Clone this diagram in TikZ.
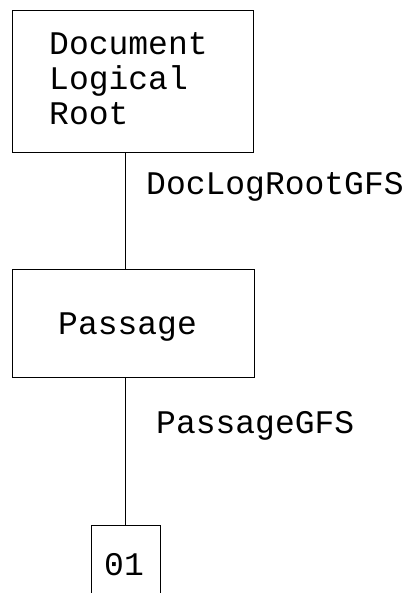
\documentclass[tikz,border=0pt]{standalone}
\usepackage{fontspec}
\newfontfamily\treefont{Liberation Mono}
\usetikzlibrary{positioning}
\tikzset{
box/.style={draw, rectangle, line width=0.8pt, inner sep=0pt},
boxtext/.style={font=\treefont\fontsize{33}{35}\selectfont, inner sep=0pt, anchor=base west, align=left},
edgelabel/.style={font=\treefont\fontsize{33}{35}\selectfont, inner sep=0pt, anchor=base west},
}

\begin{document}
\begin{tikzpicture}[x=1pt, y=-1pt]
    \useasboundingbox (0,0) rectangle (407,593);
    \begin{scope}
    \clip (0,0) rectangle (407,593);
    % boxes
    \node (root) [box, minimum width=241pt, minimum height=142pt] at (132.5,81) {};
    \node (passage) [box, minimum width=242pt, minimum height=108pt] at (133,323) {};
    \node (leaf) [box, minimum width=69pt, minimum height=100pt] at (125.5,575) {};
    \end{scope}
    % texts
    \node (roottext) [boxtext] at (49,125) {Document\\Logical\\Root};
    \node (passagetext) [boxtext] at (58,334) {Passage};
    \node (leaftext) [boxtext] at (104,575) {01};
    % connectors
    \draw[line width=0.8pt] (root.south -| leaf.north) -- (passage.north -| leaf.north);
    \draw[line width=0.8pt] (passage.south -| leaf.north) -- (leaf.north);
    \node (rootlabel) [edgelabel] at (146,195) {DocLogRootGFS};
    \node (passagelabel) [edgelabel] at (156,433) {PassageGFS};
\end{tikzpicture}
\end{document}
